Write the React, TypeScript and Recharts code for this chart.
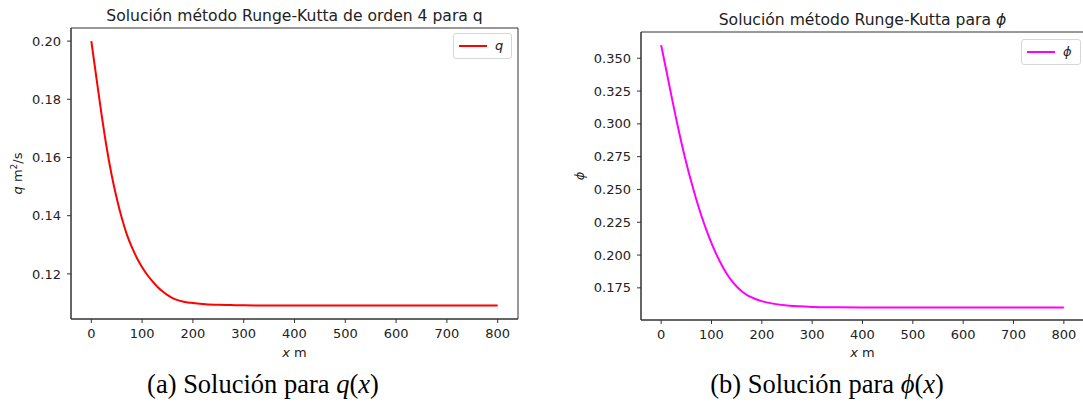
import { LineChart, Line, XAxis, YAxis, ReferenceArea } from "recharts";

// x positions (m) of the sampled solution
const xPositions = [
  0, 10, 20, 30, 40, 50, 60, 70, 80, 90, 100, 110, 120, 130, 140, 150, 160,
  170, 180, 190, 200, 225, 250, 275, 300, 350, 400, 500, 600, 700, 800,
];

// caudal q (m^2/s)
const qValues = [
  0.2, 0.1874, 0.175, 0.1636, 0.154, 0.146, 0.1392, 0.1335, 0.1291, 0.1254,
  0.1223, 0.1197, 0.1175, 0.1156, 0.114, 0.1127, 0.1117, 0.111, 0.1105,
  0.1102, 0.11, 0.1096, 0.1094, 0.1093, 0.1092, 0.1091, 0.1091, 0.1091,
  0.1091, 0.1091, 0.1091,
];

// phi
const phiValues = [
  0.36, 0.3412, 0.3222, 0.3036, 0.2862, 0.2702, 0.2556, 0.2422, 0.23, 0.219,
  0.2091, 0.2003, 0.1926, 0.186, 0.1805, 0.176, 0.1724, 0.1697, 0.1677,
  0.1661, 0.1649, 0.1628, 0.1616, 0.1609, 0.1605, 0.1602, 0.1601, 0.1601,
  0.1601, 0.1601, 0.1601,
];

const xTicks = [0, 100, 200, 300, 400, 500, 600, 700, 800];
const qTicks = [0.12, 0.14, 0.16, 0.18, 0.2];
const phiTicks = [0.175, 0.2, 0.225, 0.25, 0.275, 0.3, 0.325, 0.35];

const qData = xPositions.map((x, i) => ({ x, q: qValues[i] }));
const phiData = xPositions.map((x, i) => ({ x, phi: phiValues[i] }));

const FONT = "DejaVu Sans";
const INK = "#222";
const FRAME = "#333";
const X_DOMAIN: [number, number] = [-40, 840];
const tickStyle = { fill: INK, fontSize: 13, fontFamily: FONT };

function LegendBox({ left, top, name, color }: { left: number; top: number; name: string; color: string }) {
  return (
    <div
      style={{
        position: "absolute",
        left,
        top,
        display: "flex",
        alignItems: "center",
        height: 24,
        padding: "0 8px 0 5px",
        border: "1px solid #d6d6d6",
        borderRadius: 3,
        background: "#fff",
      }}
    >
      <svg width={28} height={4}>
        <line x1={0} y1={2} x2={28} y2={2} stroke={color} strokeWidth={2} />
      </svg>
      <span
        style={{
          marginLeft: 8,
          fontFamily: FONT,
          fontStyle: "italic",
          fontSize: 13,
          color: INK,
          lineHeight: "14px",
        }}
      >
        {name}
      </span>
    </div>
  );
}

type PanelProps = {
  data: any[];
  dataKey: string;
  color: string;
  yDomain: [number, number];
  yTicks: number[];
  digits: number;
  yAxisWidth: number;
  top: number;
  bottom: number;
  right: number;
};

const CHART_W = 530;
const CHART_H = 411;

function Panel(props: PanelProps) {
  return (
    <LineChart
      width={CHART_W}
      height={CHART_H}
      data={props.data}
      margin={{ top: props.top, right: props.right, bottom: CHART_H - props.bottom - 30, left: 0 }}
    >
      <XAxis
        dataKey="x"
        type="number"
        domain={X_DOMAIN}
        allowDataOverflow
        ticks={xTicks}
        interval={0}
        height={30}
        tick={tickStyle}
        tickSize={4}
        tickMargin={6}
        stroke={FRAME}
      />
      <YAxis
        type="number"
        domain={props.yDomain}
        allowDataOverflow
        ticks={props.yTicks}
        interval={0}
        width={props.yAxisWidth}
        tick={tickStyle}
        tickSize={4}
        tickMargin={6}
        tickFormatter={(v: number) => v.toFixed(props.digits)}
        stroke={FRAME}
      />
      {/* full box around the axes */}
      <ReferenceArea
        x1={X_DOMAIN[0]}
        x2={X_DOMAIN[1]}
        y1={props.yDomain[0]}
        y2={props.yDomain[1]}
        fill="none"
        fillOpacity={0}
        stroke={FRAME}
        strokeWidth={1}
        ifOverflow="visible"
      />
      <Line
        type="monotone"
        dataKey={props.dataKey}
        stroke={props.color}
        strokeWidth={2}
        dot={false}
        isAnimationActive={false}
      />
    </LineChart>
  );
}

export default function App() {
  return (
    <div
      style={{
        position: "absolute",
        left: 0,
        top: 0,
        width: 1083,
        height: 411,
        overflow: "hidden",
        background: "#fff",
      }}
    >
      <div style={{ position: "absolute", left: 0, top: 0 }}>
        <Panel
          data={qData}
          dataKey="q"
          color="#ff0000"
          yDomain={[0.1045, 0.2045]}
          yTicks={qTicks}
          digits={2}
          yAxisWidth={71}
          top={28}
          bottom={319}
          right={CHART_W - 518}
        />
      </div>
      <div style={{ position: "absolute", left: 560, top: 0, width: 523, height: 411, overflow: "hidden" }}>
        <Panel
          data={phiData}
          dataKey="phi"
          color="#ff00ff"
          yDomain={[0.1505, 0.37]}
          yTicks={phiTicks}
          digits={3}
          yAxisWidth={81}
          top={32}
          bottom={320}
          right={CHART_W - 524}
        />
      </div>
      <LegendBox left={453} top={33} name="q" color="#ff0000" />
      <LegendBox left={1021} top={39} name="ϕ" color="#ff00ff" />
      <svg
        width={1083}
        height={411}
        style={{ position: "absolute", left: 0, top: 0, pointerEvents: "none" }}
      >
        <g fontFamily={FONT} fill={INK} textAnchor="middle">
          <text x={294.5} y={21} fontSize={15.6}>
            Solución método Runge-Kutta de orden 4 para q
          </text>
          <text x={862.5} y={25} fontSize={15.6}>
            Solución método Runge-Kutta para <tspan fontStyle="italic">ϕ</tspan>
          </text>
          <text x={294.5} y={357} fontSize={13}>
            <tspan fontStyle="italic">x</tspan> m
          </text>
          <text x={862.5} y={357} fontSize={13}>
            <tspan fontStyle="italic">x</tspan> m
          </text>
          <text x={0} y={0} fontSize={13} transform="translate(22 173.5) rotate(-90)">
            <tspan fontStyle="italic">q</tspan> m<tspan fontSize={9} dy={-5}>2</tspan>
            <tspan dy={5}>/s</tspan>
          </text>
          <text x={0} y={0} fontSize={13} fontStyle="italic" transform="translate(584 176) rotate(-90)">
            ϕ
          </text>
        </g>
        <g fontFamily="Liberation Serif" fill="#000" textAnchor="middle" fontSize={26.5}>
          <text x={263} y={393}>
            (a) Solución para <tspan fontStyle="italic">q</tspan>(<tspan fontStyle="italic">x</tspan>)
          </text>
          <text x={827} y={393}>
            (b) Solución para <tspan fontStyle="italic">ϕ</tspan>(<tspan fontStyle="italic">x</tspan>)
          </text>
        </g>
      </svg>
    </div>
  );
}
